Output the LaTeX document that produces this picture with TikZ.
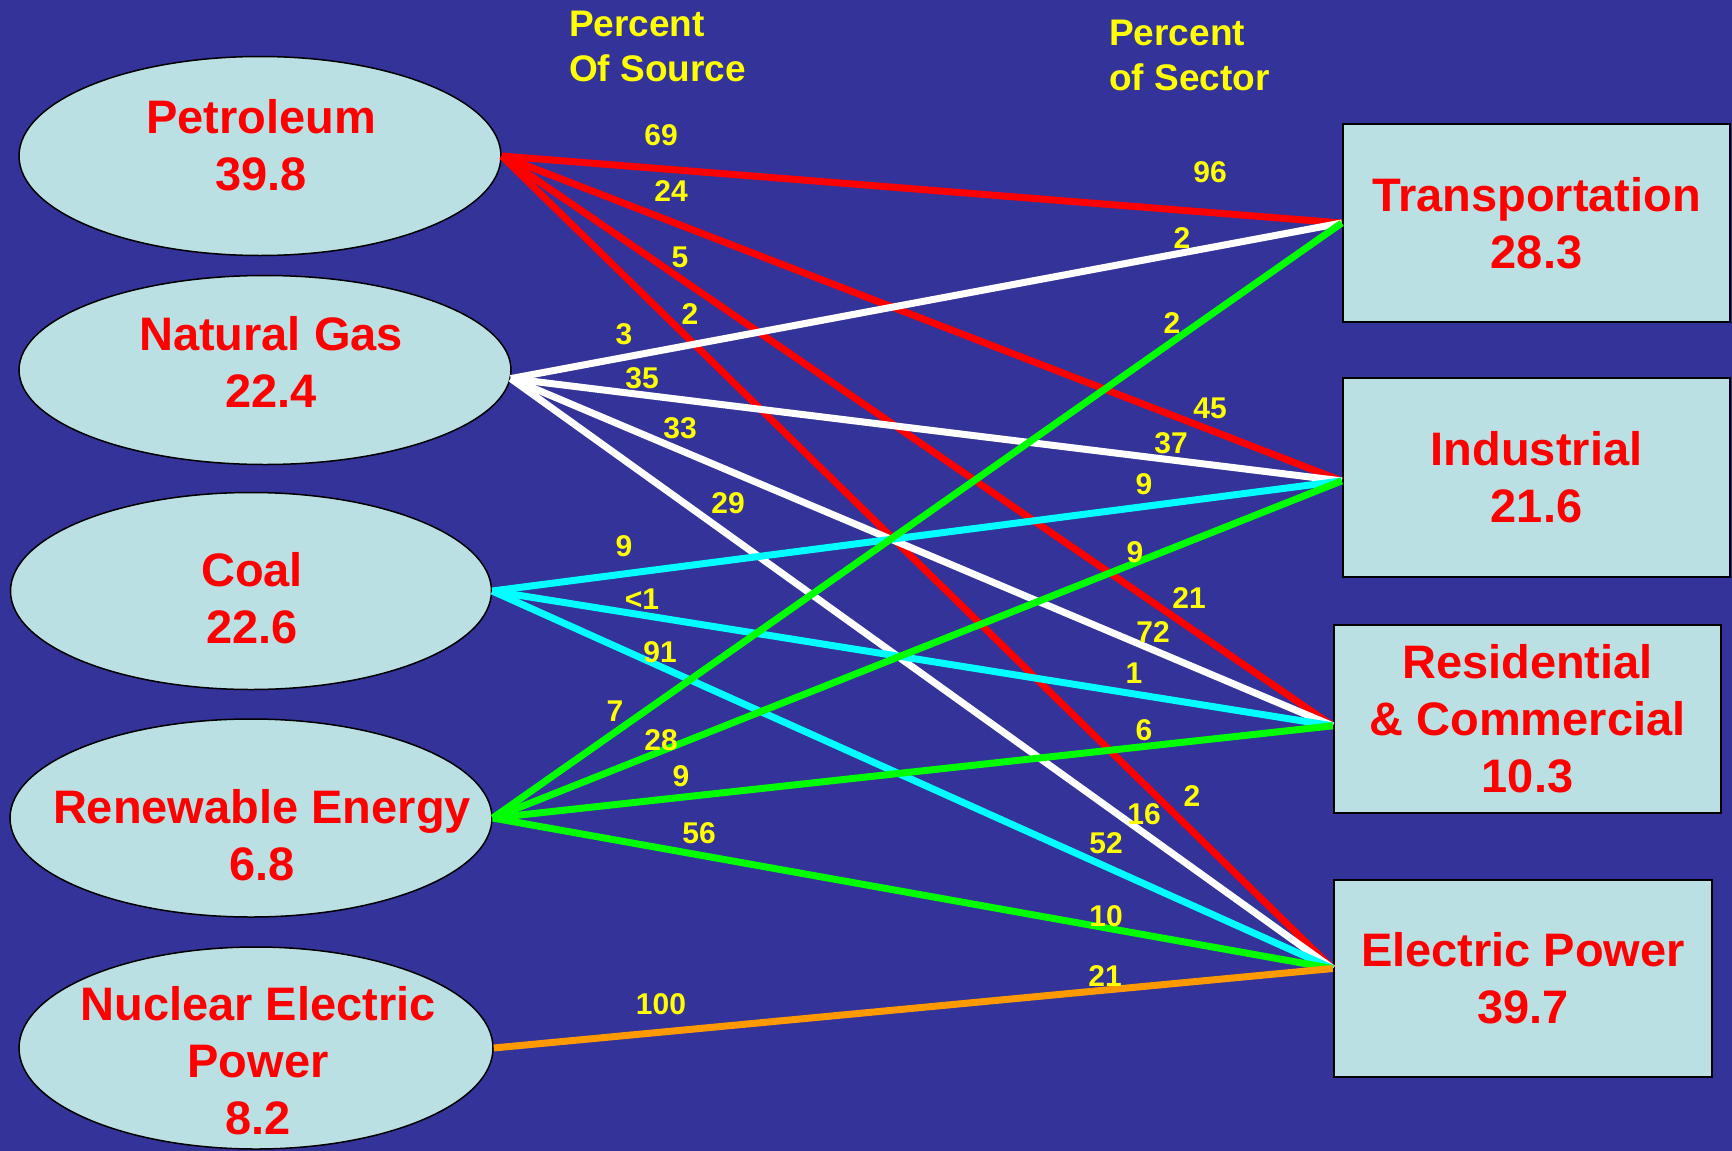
\documentclass[tikz,border=0pt]{standalone}
\usepackage{fontspec}
\setmainfont{Liberation Sans}
\usetikzlibrary{shapes.geometric}
\definecolor{slide}{RGB}{51,51,153}
\definecolor{paleblue}{RGB}{187,224,227}
\definecolor{flowgreen}{RGB}{0,255,0}
\definecolor{flowcyan}{RGB}{0,255,255}
\definecolor{floworange}{RGB}{255,153,0}
\definecolor{pctyellow}{RGB}{255,255,0}
\begin{document}
\begin{tikzpicture}[x=1pt,y=-1pt,
    source/.style={ellipse,draw=black,line width=1.5,fill=paleblue,inner sep=0},
    srcname/.style={text=red,align=center,inner sep=0,font=\fontsize{47}{57}\selectfont\bfseries},
    sector/.style={rectangle,draw=black,line width=2.5,fill=paleblue,text=red,align=center,
      inner sep=0,font=\fontsize{47}{57}\selectfont\bfseries},
    flow/.style={line width=7},
    pct/.style={text=pctyellow,inner sep=0,font=\fontsize{30}{36}\selectfont\bfseries},
    heading/.style={text=pctyellow,align=left,anchor=north west,inner sep=0,
      font=\fontsize{37}{45}\selectfont\bfseries}]
  % Background
  \fill[slide] (0,0) rectangle (1732,1151);
  \useasboundingbox (0,0) rectangle (1732,1151);
  % Sources
  \node[source,minimum width=482,minimum height=199] (pet) at (260,156) {};
  \node[source,minimum width=492,minimum height=189] (gas) at (265,370) {};
  \node[source,minimum width=481,minimum height=197] (coal) at (251,591) {};
  \node[source,minimum width=482,minimum height=198] (ren) at (251,818) {};
  \node[source,minimum width=474,minimum height=202] (nuc) at (256,1048) {};
  % Sectors
  \node[sector,minimum width=387,minimum height=198] (trans) at (1536.5,223) {Transportation\\28.3};
  \node[sector,minimum width=387,minimum height=199] (ind) at (1536.5,477.5) {Industrial\\21.6};
  \node[sector,minimum width=387,minimum height=188] (res) at (1527.5,719) {Residential\\\& Commercial\\10.3};
  \node[sector,minimum width=378,minimum height=197] (elec) at (1523,978.5) {Electric Power\\39.7};
  % Ends of the flows
  \coordinate (pet-out) at (pet.east);
  \coordinate (gas-out) at (gas.-2);
  \coordinate (coal-out) at (coal.east);
  \coordinate (ren-out) at (ren.east);
  \coordinate (nuc-out) at (nuc.east);
  \coordinate (trans-in) at (trans.west);
  \coordinate (ind-in) at (ind.181);
  \coordinate (res-in) at (res.182);
  \coordinate (elec-in) at (elec.177);
  % Flows
  \foreach \t in {trans,ind,res,elec}
    \draw[flow,red] (pet-out) -- (\t-in);
  \foreach \t in {trans,ind,res,elec}
    \draw[flow,white] (gas-out) -- (\t-in);
  \foreach \t in {ind,res,elec}
    \draw[flow,flowcyan] (coal-out) -- (\t-in);
  \foreach \t in {trans,ind,res,elec}
    \draw[flow,flowgreen] (ren-out) -- (\t-in);
  \draw[flow,floworange] (nuc-out) -- (elec-in);
  % Names of the sources
  \node[srcname] (pet-txt) at (261,145) {Petroleum\\39.8};
  \node[srcname] (gas-txt) at (271,362) {Natural Gas\\22.4};
  \node[srcname] (coal-txt) at (252,598) {Coal\\22.6};
  \node[srcname] (ren-txt) at (262,835) {Renewable Energy\\6.8};
  \node[srcname] (nuc-txt) at (258,1061) {Nuclear Electric\\Power\\8.2};
  % Headings
  \node[heading] (src-head) at (569,11) {Percent\\Of Source};
  \node[heading] (sec-head) at (1109,20) {Percent\\of Sector};
  % Percentages
  \foreach \x/\y/\txt [count=\i] in {661/135/69, 1210/172/96, 671/191/24, 1210/408/45,
      680/257/5, 1189/598/21, 690/314/2, 1192/796/2, 624/334/3, 1182/238/2,
      642/378/35, 1171/443/37, 680/428/33, 1153/632/72, 728/503/29, 1144/814/16,
      624/546/9, 1144/484/9, 642/599/<1, 1134/673/1, 660/652/91, 1106/843/52,
      615/711/7, 1172/323/2, 661/740/28, 1135/552/9, 681/776/9, 1144/730/6,
      699/833/56, 1106/916/10, 661/1004/100, 1105/976/21}
    \node[pct] (pct-\i) at (\x,\y) {\txt};
\end{tikzpicture}
\end{document}
